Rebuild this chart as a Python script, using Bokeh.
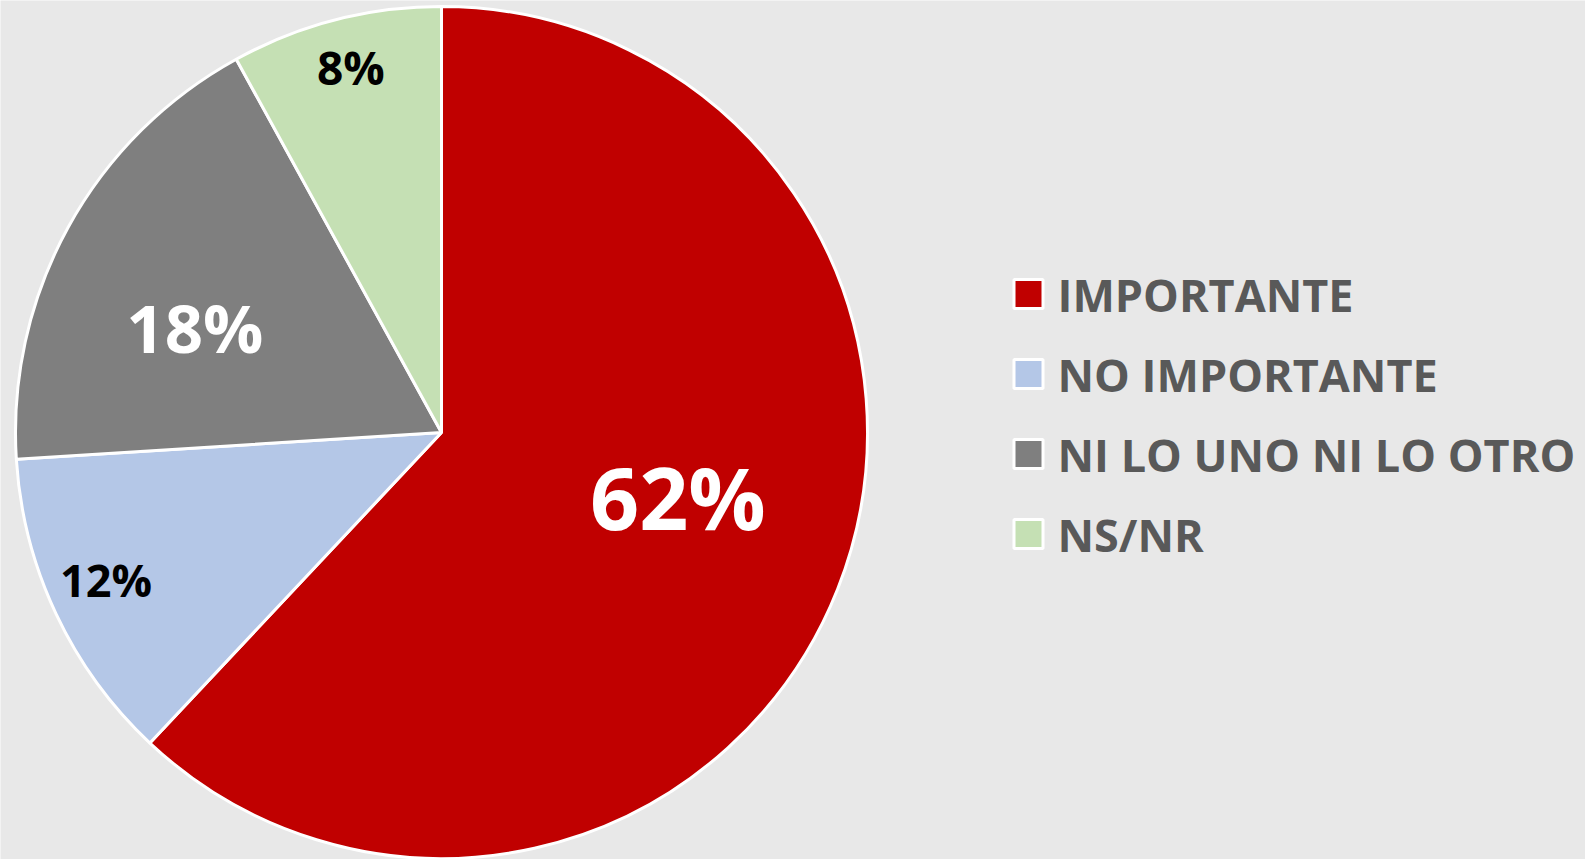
import numpy as np
from bokeh.plotting import figure
from bokeh.models import Range1d, ColumnDataSource
from bokeh.core.properties import value
from bokeh.embed import file_html
from bokeh.resources import INLINE

# ---- data ----
categories = ["IMPORTANTE", "NO IMPORTANTE", "NI LO UNO NI LO OTRO", "NS/NR"]
percent = [62, 12, 18, 8]
label_text = ["62%", "12%", "18%", "8%"]

# ---- style / layout ----
colors = ["#C00000", "#B4C7E7", "#7F7F7F", "#C5E0B4"]
label_colors = ["white", "black", "white", "black"]
label_sizes = ["86px", "45px", "67px", "46px"]
label_radius = [0.575, 0.86, 0.63, 0.885]
label_angle_nudge = [6.4, -1.5, 5.6, -0.5]
bg = "#e8e8e8"
FONT = "Open Sans"

W, H = 1585, 859
cx, cy_page, R = 441, 432, 426

def py(y_page):
    return H - y_page

p = figure(width=W, height=H, output_backend="svg", toolbar_location=None,
           x_range=Range1d(0, W), y_range=Range1d(0, H),
           x_axis_location=None, y_axis_location=None, min_border=0)
p.grid.visible = False
p.outline_line_color = None
p.background_fill_color = bg
p.border_fill_color = bg

vals = np.array(percent, dtype=float)
frac = vals / vals.sum()
cum = np.concatenate([[0], np.cumsum(frac)])
start = 90 - cum[:-1] * 360
end = 90 - cum[1:] * 360
mid = (start + end) / 2 + np.array(label_angle_nudge)

src = ColumnDataSource(dict(start=start, end=end, color=colors, cat=categories))
p.wedge(x=cx, y=py(cy_page), radius=R, start_angle="start", end_angle="end",
        start_angle_units="deg", end_angle_units="deg", direction="clock",
        fill_color="color", line_color="white", line_width=3, source=src)

lx = cx + np.array(label_radius) * R * np.cos(np.radians(mid))
ly = py(cy_page) + np.array(label_radius) * R * np.sin(np.radians(mid))
lsrc = ColumnDataSource(dict(x=lx, y=ly, t=label_text, c=label_colors, s=label_sizes))
p.text(x="x", y="y", text="t", text_color="c", text_font_size="s",
       text_font=value(FONT), text_font_style="bold", text_align="center",
       text_baseline="middle", source=lsrc)

# legend
n = len(categories)
row_y = np.array([293.5 + 80 * i for i in range(n)], dtype=float)
leg_src = ColumnDataSource(dict(
    x=[1028] * n, y=[py(r) for r in row_y], color=colors,
    tx=[1057] * n, ty=[py(r) for r in row_y], t=categories))
p.scatter(x="x", y="y", marker="square", size=29, fill_color="color",
          line_color="white", line_width=3, source=leg_src)
p.text(x="tx", y="ty", text="t", text_color="#595959", text_font_size="45px",
       text_font=value(FONT), text_font_style="bold", text_align="left",
       text_baseline="middle", source=leg_src)

open("out.html", "w").write(file_html(p, INLINE))
